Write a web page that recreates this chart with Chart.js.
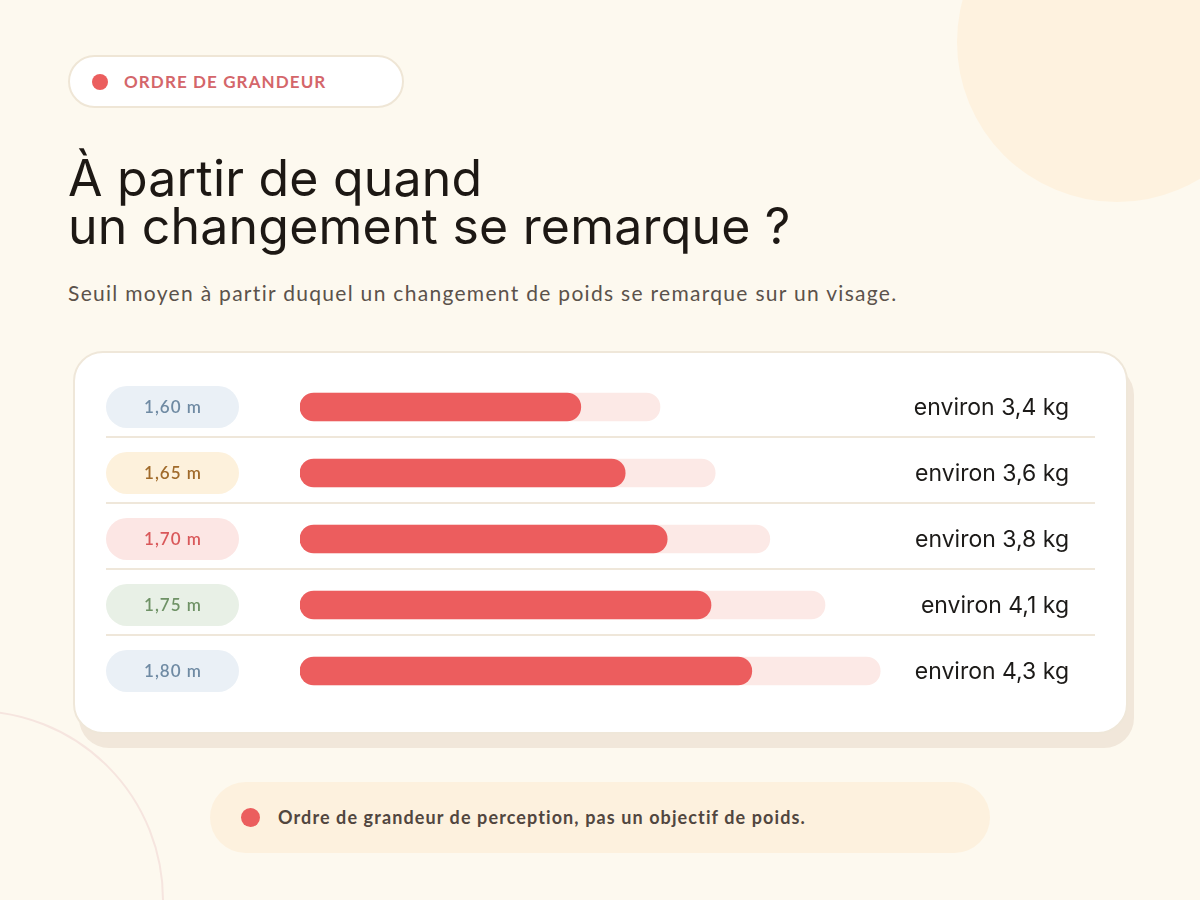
<!DOCTYPE html>
<html>
<head>
    <meta charset="utf-8">
    <title>Seuil de perception</title>
    <script src="https://cdn.jsdelivr.net/npm/chart.js"></script>
    <style>
        html, body { margin: 0; padding: 0; }
        body { width: 1200px; height: 900px; background: #fdf9ef; position: relative; overflow: hidden; font-family: Lato, sans-serif; }
        .blob { position: absolute; left: 957px; top: -118px; width: 320px; height: 320px; border-radius: 50%; background: #fef2df; }
        .ring { position: absolute; left: -216px; top: 710px; width: 380px; height: 380px; border-radius: 50%; border: 2px solid #f6e5df; box-sizing: border-box; }
        .badge { position: absolute; left: 68px; top: 55px; width: 336px; height: 53px; box-sizing: border-box; border: 2px solid #efe6d6; border-radius: 27px; background: #fff; }
        .badge i { position: absolute; left: 22px; top: 17px; width: 16px; height: 16px; border-radius: 50%; background: #eb5e5e; }
        .badge span { position: absolute; left: 54px; top: 14px; font-size: 17px; font-weight: 700; color: #d4666a; letter-spacing: 1.1px; }
        h1 { position: absolute; left: 68px; top: 154px; margin: 0; font-family: Inter, sans-serif; font-weight: 400; font-size: 50px; line-height: 48px; color: #1d1814; letter-spacing: 0.2px; }
        .sub { position: absolute; left: 68px; top: 280px; font-size: 21px; color: #5b524b; letter-spacing: 1.3px; }
        .card { position: absolute; left: 73px; top: 351px; width: 1055px; height: 383px; box-sizing: border-box; border: 2px solid #efe7d9; border-radius: 30px; background: #fff; box-shadow: 6px 14px 0 #f1e7da; }
        #chart { position: absolute; left: 106px; top: 374px; }
        .note { position: absolute; left: 210px; top: 782px; width: 780px; height: 71px; border-radius: 36px; background: #fdf1de; }
        .note i { position: absolute; left: 31px; top: 26px; width: 19px; height: 19px; border-radius: 50%; background: #eb5e5e; }
        .note span { position: absolute; left: 68px; top: 24px; font-size: 18px; font-weight: 700; color: #51463f; letter-spacing: 1.1px; }
    </style>
</head>
<body>
    <div class="blob"></div>
    <div class="ring"></div>
    <div class="badge"><i></i><span>ORDRE DE GRANDEUR</span></div>
    <h1>À partir de quand<br>un changement se remarque ?</h1>
    <div class="sub">Seuil moyen à partir duquel un changement de poids se remarque sur un visage.</div>
    <div class="card"></div>
    <canvas id="chart" width="989" height="330"></canvas>
    <div class="note"><i></i><span>Ordre de grandeur de perception, pas un objectif de poids.</span></div>
    <script>
        // tailles (m) et seuil de poids perçu (kg)
        var heights = ['1,60 m', '1,65 m', '1,70 m', '1,75 m', '1,80 m'];
        var weights = [3.4, 3.6, 3.8, 4.1, 4.3];
        // longueur du rail et du remplissage, en % de la piste
        var trackLen = [60, 69.2, 78.3, 87.5, 96.7];
        var fillLen = [46.8, 54.2, 61.2, 68.5, 75.3];

        var pillBg = ['#eaf0f6', '#fdf1dc', '#fce6e4', '#e8f0e6', '#eaf0f6'];
        var pillText = ['#6f8aa3', '#a06a2a', '#d9585a', '#6f9266', '#6f8aa3'];

        var rowDecor = {
            id: 'rowDecor',
            beforeDatasetsDraw: function (chart) {
                var ctx = chart.ctx, y = chart.scales.y;
                ctx.save();
                heights.forEach(function (h, i) {
                    var cy = y.getPixelForValue(i);
                    if (i < heights.length - 1) {
                        ctx.fillStyle = '#efe7da';
                        ctx.fillRect(0, cy + 29, chart.width, 2);
                    }
                    ctx.fillStyle = pillBg[i];
                    ctx.beginPath();
                    ctx.roundRect(0, cy - 21, 133, 42, 21);
                    ctx.fill();
                    ctx.fillStyle = pillText[i];
                    ctx.font = '600 17px Lato';
                    ctx.letterSpacing = '1px';
                    ctx.textAlign = 'center';
                    ctx.textBaseline = 'middle';
                    ctx.fillText(h, 67, cy + 1);
                });
                ctx.restore();
            },
            afterDatasetsDraw: function (chart) {
                var ctx = chart.ctx, y = chart.scales.y;
                ctx.save();
                ctx.fillStyle = '#1c1a18';
                ctx.font = '23px Inter';
                ctx.textAlign = 'right';
                ctx.textBaseline = 'middle';
                weights.forEach(function (w, i) {
                    ctx.fillText('environ ' + String(w).replace('.', ',') + ' kg', 963, y.getPixelForValue(i) + 1);
                });
                ctx.restore();
            }
        };

        new Chart(document.getElementById('chart'), {
            type: 'bar',
            data: {
                labels: heights,
                datasets: [{
                    label: 'Seuil',
                    data: fillLen,
                    backgroundColor: '#ec5d5e',
                    barThickness: 28,
                    borderRadius: 14,
                    borderSkipped: false,
                    grouped: false
                }, {
                    label: 'Piste',
                    data: trackLen,
                    backgroundColor: '#fce9e6',
                    barThickness: 28,
                    borderRadius: 14,
                    borderSkipped: false,
                    grouped: false
                }]
            },
            options: {
                indexAxis: 'y',
                responsive: false,
                animation: false,
                devicePixelRatio: 1,
                layout: { padding: { left: 194, right: 195, top: 0, bottom: 0 } },
                scales: {
                    x: { display: false, min: 0, max: 100 },
                    y: { display: false }
                },
                plugins: {
                    legend: { display: false },
                    tooltip: { enabled: false }
                }
            },
            plugins: [rowDecor]
        });
    </script>
</body>
</html>
